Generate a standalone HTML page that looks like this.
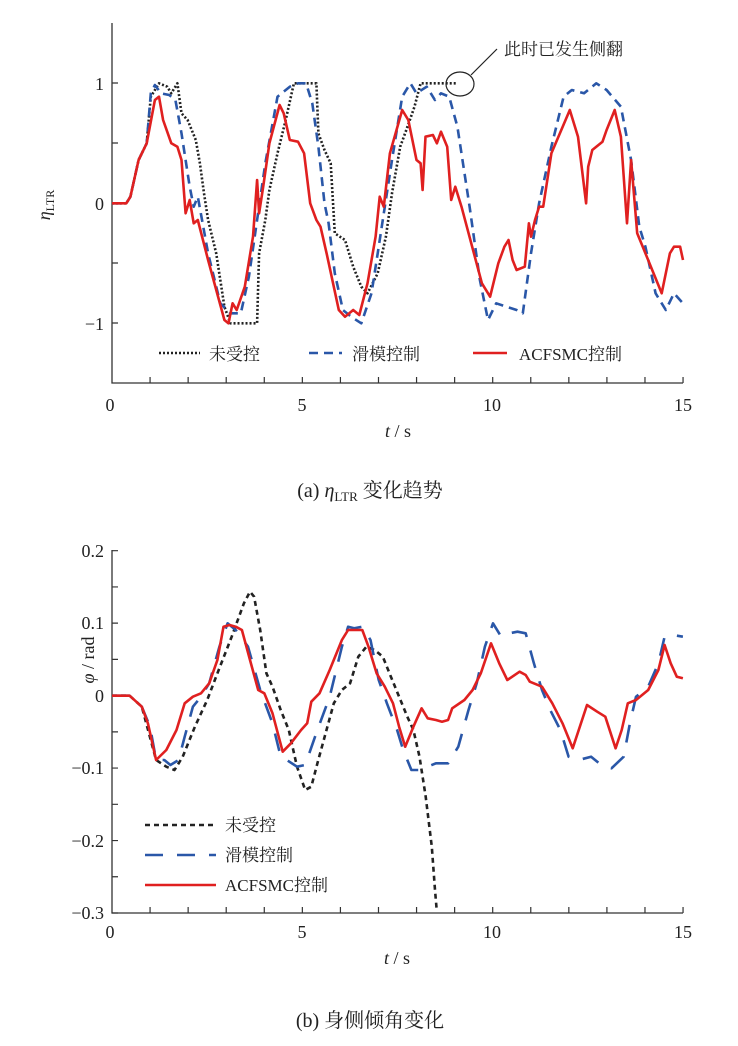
<!DOCTYPE html>
<html><head><meta charset="utf-8"><style>
body{margin:0;background:#fff;}
svg text{font-family:"Liberation Serif","Noto Serif CJK SC",serif;fill:#222;}
</style></head><body>
<svg id="s" width="738" height="1041" xmlns="http://www.w3.org/2000/svg">
<g stroke="#333" stroke-width="1.3" fill="none">
<path d="M112,23 V383 H683"/>
<path d="M112,550 V913 H683"/>
</g>
<g id="ticks" stroke="#333" stroke-width="1.2"></g>
<g font-size="18">
<text x="110" y="411" text-anchor="middle">0</text>
<text x="302" y="411" text-anchor="middle">5</text>
<text x="492" y="411" text-anchor="middle">10</text>
<text x="683" y="411" text-anchor="middle">15</text>
<text x="104" y="90" text-anchor="end">1</text>
<text x="104" y="210" text-anchor="end">0</text>
<text x="104" y="330" text-anchor="end">−1</text>
<text x="398" y="437" text-anchor="middle"><tspan font-style="italic">t</tspan> / s</text>
<text transform="translate(50,205) rotate(-90)" text-anchor="middle"><tspan font-style="italic">η</tspan><tspan font-size="12" dy="4">LTR</tspan></text>
<text x="104" y="557" text-anchor="end">0.2</text>
<text x="104" y="629" text-anchor="end">0.1</text>
<text x="104" y="702" text-anchor="end">0</text>
<text x="104" y="774" text-anchor="end">−0.1</text>
<text x="104" y="847" text-anchor="end">−0.2</text>
<text x="104" y="919" text-anchor="end">−0.3</text>
<text x="110" y="938" text-anchor="middle">0</text>
<text x="302" y="938" text-anchor="middle">5</text>
<text x="492" y="938" text-anchor="middle">10</text>
<text x="683" y="938" text-anchor="middle">15</text>
<text x="397" y="964" text-anchor="middle"><tspan font-style="italic">t</tspan> / s</text>
<text transform="translate(94,660) rotate(-90)" text-anchor="middle"><tspan font-style="italic">φ</tspan> / rad</text>
</g>
<g font-size="20">
<text x="370" y="497" text-anchor="middle">(a)  <tspan font-style="italic">η</tspan><tspan font-size="13" dy="4">LTR</tspan><tspan dy="-4"> 变化趋势</tspan></text>
<text x="370" y="1027" text-anchor="middle">(b)  身侧倾角变化</text>
</g>
<g font-size="17">
<text x="209" y="360">未受控</text>
<text x="352" y="360">滑模控制</text>
<text x="519" y="360">ACFSMC控制</text>
<text x="504" y="55">此时已发生侧翻</text>
<text x="225" y="831">未受控</text>
<text x="225" y="861">滑模控制</text>
<text x="225" y="891">ACFSMC控制</text>
</g>
<ellipse cx="460" cy="84" rx="14" ry="12" stroke="#222" stroke-width="1.2" fill="none"/>
<line x1="471" y1="75" x2="497" y2="49" stroke="#222" stroke-width="1.2"/>
<g stroke-width="2.6" fill="none">
<line x1="159" y1="353" x2="200" y2="353" stroke="#222" stroke-dasharray="2,2"/>
<line x1="309" y1="353" x2="342" y2="353" stroke="#2a57a8" stroke-dasharray="9,6"/>
<line x1="473" y1="353" x2="507" y2="353" stroke="#e02020"/>
<line x1="145" y1="825" x2="216" y2="825" stroke="#222" stroke-dasharray="5,4"/>
<line x1="145" y1="855" x2="216" y2="855" stroke="#2a57a8" stroke-dasharray="18,14"/>
<line x1="145" y1="885" x2="216" y2="885" stroke="#e02020"/>
</g>
<g id="curves" fill="none" stroke-width="2.6" stroke-linejoin="round"></g>
</svg>
<script>
var NS="http://www.w3.org/2000/svg";
function T(X,Y){return function(p){return [X(p[0]),Y(p[1])]}}
var tTop=T(function(x){return 112+(x-55)*571/1397},function(y){return 20+y/3});
var tBot=T(function(x){return 112+(x-127)*0.4084},function(y){return 530+y/3});
function add(pts,tf,col,dash){var d="";pts.forEach(function(p,i){var q=tf(p);d+=(i?"L":"M")+q[0].toFixed(1)+","+q[1].toFixed(1)});
var e=document.createElementNS(NS,"path");e.setAttribute("d",d);e.setAttribute("stroke",col);if(dash)e.setAttribute("stroke-dasharray",dash);document.getElementById("curves").appendChild(e);}
var Rt=[[55,550],[90,550],[100,530],[120,420],[140,370],[160,240],[170,230],[180,300],[200,370],[215,380],[225,420],[235,580],[245,540],[255,610],[265,600],[290,720],[330,900],[340,910],[350,850],[360,870],[380,800],[400,650],[410,480],[415,580],[425,500],[440,370],[465,255],[475,280],[490,360],[510,365],[525,400],[540,550],[555,600],[565,620],[580,700],[610,870],[625,890],[645,870],[660,885],[680,790],[700,650],[710,530],[720,560],[735,400],[765,270],[780,300],[800,420],[810,430],[815,510],[822,350],[840,345],[850,370],[860,335],[875,380],[885,540],[895,500],[910,560],[960,790],[980,830],[1000,730],[1015,680],[1025,660],[1035,720],[1045,750],[1065,740],[1075,610],[1080,650],[1090,600],[1100,560],[1110,560],[1130,400],[1175,270],[1195,350],[1215,550],[1220,440],[1230,390],[1240,380],[1255,365],[1265,330],[1285,270],[1300,350],[1315,610],[1325,420],[1340,640],[1360,700],[1400,820],[1420,700],[1430,680],[1445,680],[1452,720]];
var Bt=[[55,550],[90,550],[100,530],[120,420],[140,370],[150,220],[160,195],[175,220],[195,225],[210,240],[225,340],[245,500],[255,560],[265,530],[290,700],[320,850],[345,880],[370,880],[390,770],[410,600],[430,430],[460,230],[490,200],[510,190],[530,190],[545,250],[560,380],[575,550],[585,610],[600,760],[620,870],[640,890],[665,910],[690,820],[705,700],[720,580],[740,420],[765,230],[785,190],[800,220],[825,200],[845,240],[860,220],[880,230],[900,320],[930,560],[955,780],[975,900],[995,850],[1020,860],[1045,870],[1060,880],[1080,700],[1100,550],[1130,380],[1160,230],[1180,210],[1210,220],[1240,190],[1265,210],[1300,260],[1325,420],[1345,620],[1360,680],[1385,820],[1410,870],[1430,820],[1452,850]];
var Kt=[[55,550],[90,550],[100,530],[120,420],[140,370],[150,230],[170,190],[190,200],[200,220],[215,190],[225,280],[240,300],[260,360],[270,430],[280,520],[290,600],[310,700],[330,860],[345,910],[410,910],[415,700],[430,600],[440,510],[460,400],[480,300],[500,190],[555,190],[560,340],[575,390],[590,430],[600,640],[625,660],[645,740],[665,800],[680,820],[705,760],[725,650],[740,520],[760,380],[775,330],[795,260],[810,190],[900,190]];
var Rb=[[127,497],[170,497],[200,530],[215,580],[235,690],[260,660],[285,600],[305,520],[325,500],[345,490],[365,460],[385,390],[400,290],[415,285],[430,290],[445,300],[465,390],[485,480],[500,490],[520,550],[545,665],[565,640],[590,600],[605,580],[615,515],[635,490],[660,420],[690,330],[705,300],[740,300],[755,350],[775,430],[795,470],[815,520],[830,590],[845,650],[865,590],[885,535],[900,565],[920,570],[935,575],[950,570],[960,535],[990,510],[1010,480],[1030,430],[1055,340],[1075,400],[1095,450],[1125,425],[1140,435],[1150,455],[1180,470],[1205,520],[1230,580],[1255,655],[1290,525],[1315,545],[1335,560],[1360,655],[1375,600],[1390,520],[1410,510],[1440,480],[1465,420],[1480,345],[1495,400],[1510,440],[1525,445]];
var Bb=[[127,497],[170,497],[200,530],[220,590],[235,690],[255,690],[270,705],[290,690],[305,620],[325,530],[345,500],[365,460],[390,350],[410,280],[430,300],[460,350],[490,480],[520,580],[540,680],[555,690],[580,710],[600,705],[630,600],[660,500],[690,350],[705,290],[720,295],[740,290],[760,330],[780,450],[800,520],[825,600],[840,660],[860,720],[880,720],[900,710],[920,700],[950,700],[975,650],[1000,540],[1020,460],[1040,350],[1060,280],[1080,320],[1100,310],[1120,305],[1140,310],[1160,400],[1180,480],[1200,540],[1225,600],[1245,680],[1270,690],[1300,680],[1330,710],[1350,715],[1380,680],[1395,580],[1410,500],[1440,470],[1465,400],[1480,320],[1500,315],[1525,320]];
var Kb=[[127,497],[170,497],[200,530],[235,690],[260,710],[280,720],[300,680],[330,590],[360,510],[385,430],[420,320],[450,220],[465,185],[475,200],[490,300],[505,430],[520,470],[540,540],[560,600],[580,710],[600,780],[615,770],[630,700],[650,610],[670,520],[690,480],[710,460],[730,380],[750,350],[770,360],[790,380],[810,440],[830,500],[850,560],[865,600],[880,680],[895,800],[910,950],[918,1080],[922,1140]];
add(Kt,tTop,"#222","2,2");add(Bt,tTop,"#2a57a8","9,6");add(Rt,tTop,"#e02020");
add(Kb,tBot,"#222","5,4");add(Bb,tBot,"#2a57a8","18,14");add(Rb,tBot,"#e02020");
var g=document.getElementById("ticks"),d="";
for(var i=1;i<=15;i++){var x=112+i*38.07;d+="M"+x+",383V377";d+="M"+x+",913V907";}
for(var v=-1;v<=1.01;v+=0.5){var y=203-v*120;d+="M112,"+y+"H118";}
for(var k=0;k<=10;k++){var y2=550.7+k*36.23;d+="M112,"+y2+"H118";}
var p=document.createElementNS(NS,"path");p.setAttribute("d",d);g.appendChild(p);
</script>
</body></html>
